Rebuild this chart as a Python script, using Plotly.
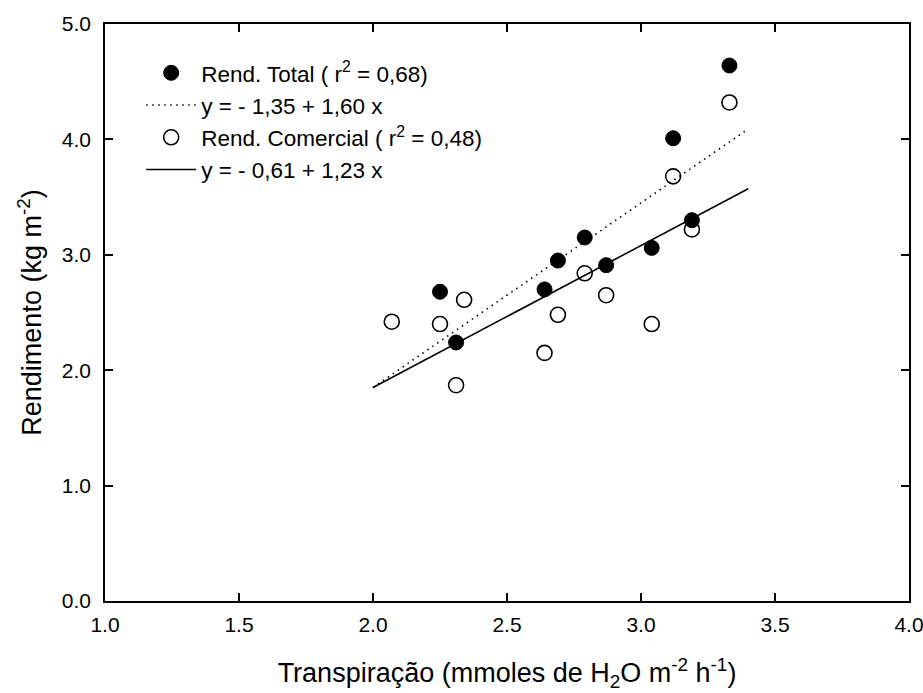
import plotly.graph_objects as go

# Data
x_total = [2.25, 2.31, 2.64, 2.69, 2.79, 2.87, 3.04, 3.12, 3.19, 3.33]
y_total = [2.68, 2.24, 2.70, 2.95, 3.15, 2.91, 3.06, 4.01, 3.30, 4.64]

x_com = [2.07, 2.25, 2.31, 2.34, 2.64, 2.69, 2.79, 2.87, 3.04, 3.12, 3.19, 3.33]
y_com = [2.42, 2.40, 1.87, 2.61, 2.15, 2.48, 2.84, 2.65, 2.40, 3.68, 3.22, 4.32]

fit_x = [2.0, 3.4]
a_total, b_total = -1.35, 1.60
a_com, b_com = -0.61, 1.23
fit_total = [a_total + b_total * v for v in fit_x]
fit_com = [a_com + b_com * v for v in fit_x]

x_ticks = [1.0, 1.5, 2.0, 2.5, 3.0, 3.5, 4.0]
y_ticks = [0.0, 1.0, 2.0, 3.0, 4.0, 5.0]

font_family = "Liberation Sans, Arial, sans-serif"

fig = go.Figure()
fig.add_trace(go.Scatter(
    x=x_total, y=y_total, mode="markers",
    name="Rend. Total ( r<sup>2</sup> = 0,68)",
    marker=dict(symbol="circle", size=15, color="black", line=dict(color="black", width=1)),
))
fig.add_trace(go.Scatter(
    x=fit_x, y=fit_total, mode="lines",
    name="y = - 1,35 + 1,60 x",
    line=dict(color="black", width=1.6, dash="1.5px,4.5px"),
))
fig.add_trace(go.Scatter(
    x=x_com, y=y_com, mode="markers",
    name="Rend. Comercial ( r<sup>2</sup> = 0,48)",
    marker=dict(symbol="circle-open", size=15, color="black", line=dict(color="black", width=1.6)),
))
fig.add_trace(go.Scatter(
    x=fit_x, y=fit_com, mode="lines",
    name="y = - 0,61 + 1,23 x",
    line=dict(color="black", width=1.6),
))

axis_common = dict(
    showline=True, linecolor="black", linewidth=1.5, mirror="ticks",
    ticks="inside", ticklen=8, tickwidth=1.5, tickcolor="black",
    showgrid=False, zeroline=False, automargin=False,
    ticklabeloverflow="allow",
    tickfont=dict(family=font_family, size=21, color="black"),
)

fig.update_layout(
    width=923, height=693,
    margin=dict(l=105, r=14, t=24, b=92),
    paper_bgcolor="white", plot_bgcolor="white",
    font=dict(family=font_family, color="black"),
    showlegend=True,
    legend=dict(
        x=0.045, y=0.952, xanchor="left", yanchor="top",
        bgcolor="rgba(0,0,0,0)", borderwidth=0,
        font=dict(family=font_family, size=22.5, color="black"),
        traceorder="normal", itemwidth=50,
    ),
    xaxis=dict(
        range=[1.0, 4.0], tickvals=x_ticks,
        ticktext=[f"{v:.1f}" for v in x_ticks],
        ticklabelstandoff=4,
        title=dict(text="Transpiração (mmoles de H<sub>2</sub>O m<sup>-2</sup> h<sup>-1</sup>)",
                   font=dict(family=font_family, size=27, color="black"), standoff=28),
        **axis_common,
    ),
    yaxis=dict(
        range=[0.0, 5.0], tickvals=y_ticks,
        ticktext=[f"{v:.1f}" for v in y_ticks],
        ticklabelstandoff=8,
        title=dict(text="Rendimento (kg m<sup>-2</sup>)",
                   font=dict(family=font_family, size=27, color="black"), standoff=12),
        **axis_common,
    ),
)

fig.write_html("out.html")
